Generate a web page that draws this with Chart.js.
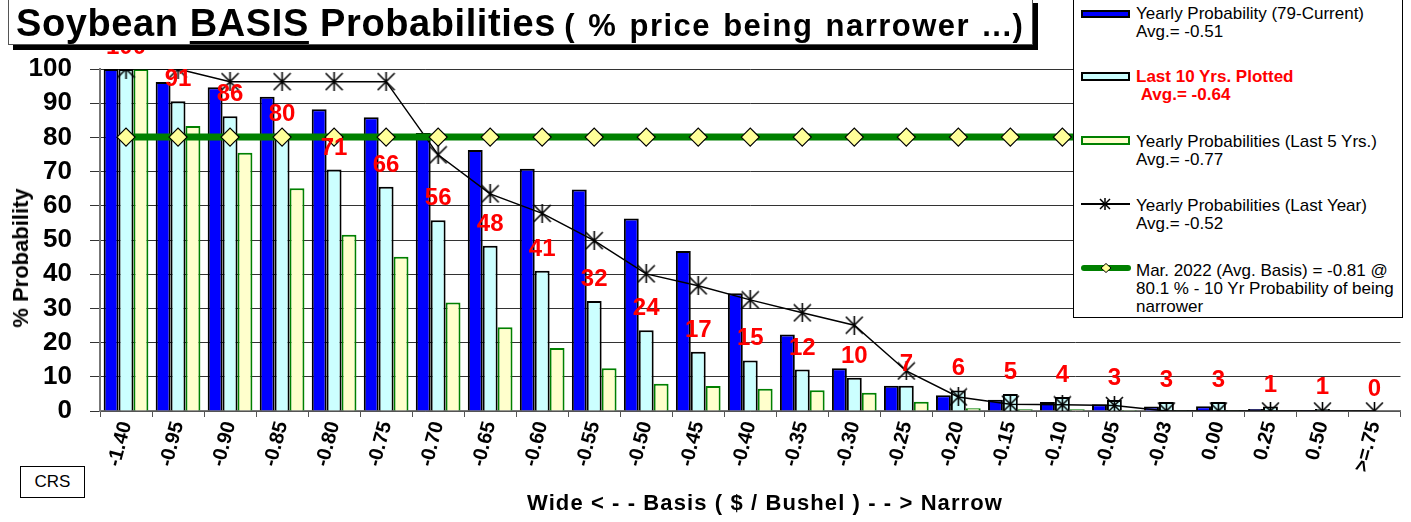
<!DOCTYPE html>
<html>
<head>
<meta charset="utf-8">
<title>Soybean BASIS Probabilities</title>
<script src="https://cdn.jsdelivr.net/npm/chart.js@4.4.1/dist/chart.umd.min.js"></script>
<style>
  html, body { margin: 0; padding: 0; background: #fff; }
  body { width: 1411px; height: 522px; position: relative; overflow: hidden;
         font-family: "Liberation Sans", Arial, sans-serif; color: #000; }
  #wrap { position: absolute; left: 0; top: 0; width: 1411px; height: 522px; }

  .title-box { position: absolute; left: 8px; top: -2px; width: 1025px; height: 47px;
               background: #fff; border: 1px solid #555; box-shadow: 5px 5px 0 #000;
               z-index: 2; white-space: nowrap; line-height: 49px; padding-left: 7px; box-sizing: border-box; }
  .title-main { font-weight: bold; font-size: 38px; letter-spacing: 0.6px; }
  .title-main u { text-decoration-thickness: 3px; text-underline-offset: 5px; }
  .title-sub { font-weight: bold; font-size: 31px; letter-spacing: 1.5px; word-spacing: 2px; margin-left: 4px; }

  .legend { position: absolute; left: 1073px; top: -1px; width: 330px; height: 319px;
            background: #fff; border: 1px solid #000; box-sizing: border-box; z-index: 2; }
  .lg-text { position: absolute; left: 62px; font-size: 17px; line-height: 18px; white-space: nowrap; }
  .lg-red { color: #ff0000; font-weight: bold; }
  .sw { position: absolute; left: 7px; width: 49px; box-sizing: border-box; }
  .lg-svg { position: absolute; left: 7px; }

  .y-title { position: absolute; left: 21px; top: 258px; transform: translate(-50%, -50%) rotate(-90deg);
             font-weight: bold; font-size: 22px; white-space: nowrap; }
  .x-title { position: absolute; left: 765px; top: 503px; transform: translate(-50%, -50%);
             font-weight: bold; font-size: 22px; letter-spacing: 1.1px; white-space: nowrap; }
  .crs { position: absolute; left: 20px; top: 466px; width: 65px; height: 32px; box-sizing: border-box;
         border: 1px solid #000; font-size: 17px; line-height: 30px; text-align: center; background: #fff; }
</style>
</head>
<body>
<div id="wrap"><canvas id="basisChart"></canvas></div>

<div class="title-box">
  <span class="title-main">Soybean <u>BASIS</u> Probabilities</span>
  <span class="title-sub">( % price being narrower ...)</span>
</div>

<div class="legend">
  <div class="sw" style="top:10px;height:8px;background:#0000ff;border:2px solid #000;"></div>
  <div class="lg-text" style="top:5px;">Yearly Probability (79-Current)<br>Avg.= -0.51</div>

  <div class="sw" style="top:72px;height:9px;background:#ccffff;border:2px solid #000;"></div>
  <div class="lg-text lg-red" style="top:68px;">Last 10 Yrs. Plotted<br>&nbsp;Avg.= -0.64</div>

  <div class="sw" style="top:136px;height:9px;background:#ffffcc;border:2px solid #008000;"></div>
  <div class="lg-text" style="top:133px;">Yearly Probabilities (Last 5 Yrs.)<br>Avg.= -0.77</div>

  <svg class="lg-svg" style="top:197px;" width="49" height="14" viewBox="0 0 49 14">
    <line x1="0" y1="7" x2="49" y2="7" stroke="#000" stroke-width="2"/>
    <line x1="19" y1="2" x2="29" y2="12" stroke="#000" stroke-width="1.5"/>
    <line x1="29" y1="2" x2="19" y2="12" stroke="#000" stroke-width="1.5"/>
    <line x1="24" y1="1" x2="24" y2="13" stroke="#000" stroke-width="1.5"/>
  </svg>
  <div class="lg-text" style="top:197px;">Yearly Probabilities (Last Year)<br>Avg.= -0.52</div>

  <svg class="lg-svg" style="top:261px;" width="50" height="14" viewBox="0 0 50 14">
    <line x1="3" y1="7" x2="47" y2="7" stroke="#008000" stroke-width="6" stroke-linecap="round"/>
    <polygon points="25,2.5 30,7 25,11.5 20,7" fill="#ffff99" stroke="#000" stroke-width="1"/>
  </svg>
  <div class="lg-text" style="top:262px;">Mar. 2022 (Avg. Basis) = -0.81 @<br>80.1 % - 10 Yr Probability of being<br>narrower</div>
</div>

<div class="y-title">% Probability</div>
<div class="x-title">Wide &lt; - - Basis ( $ / Bushel ) - - &gt; Narrow</div>
<div class="crs">CRS</div>

<script>
// basis levels ($ / bushel), wide -> narrow
const categories = ["-1.40", "-0.95", "-0.90", "-0.85", "-0.80", "-0.75", "-0.70", "-0.65", "-0.60",
  "-0.55", "-0.50", "-0.45", "-0.40", "-0.35", "-0.30", "-0.25", "-0.20", "-0.15", "-0.10",
  "-0.05", "-0.03", "0.00", "0.25", "0.50", ">=.75"];

// % probability of the price being narrower
const yearly79 = [100, 96.2, 94.7, 91.9, 88.2, 85.9, 81.3, 76.3, 70.8, 64.8, 56.3, 46.8, 34.4,
  22.4, 12.5, 7.4, 4.6, 3.3, 2.6, 2.0, 1.3, 1.4, 0.6, 0.3, 0.2];
const last10 = [100, 90.6, 86.2, 80.3, 70.6, 65.6, 55.8, 48.3, 41.0, 32.2, 23.6, 17.3, 14.8,
  12.1, 9.7, 7.4, 6.0, 5.0, 4.1, 3.2, 2.6, 2.6, 1.3, 0.6, 0.0];
const last5 = [100, 83.3, 75.5, 65.1, 51.5, 45.1, 31.7, 24.5, 18.4, 12.5, 8.0, 7.3, 6.5,
  6.1, 5.3, 2.7, 0.8, 0.5, 0.5, 0.3, 0.3, 0.3, 0, 0, 0];
const lastYear = [100, 100, 96.3, 96.3, 96.3, 96.3, 74.9, 63.5, 57.8, 49.8, 40.1, 36.6, 32.5,
  28.7, 25.1, 11.7, 4.1, 2.0, 1.8, 1.6, 0, 0, 0, 0, 0];
const mar2022 = [80.1, 80.1, 80.1, 80.1, 80.1, 80.1, 80.1, 80.1, 80.1, 80.1, 80.1, 80.1, 80.1,
  80.1, 80.1, 80.1, 80.1, 80.1, 80.1, 80.1, 80.1, 80.1, 80.1, 80.1, 80.1];

const yTicks = [0, 10, 20, 30, 40, 50, 60, 70, 80, 90, 100];

const FONT = '"Liberation Sans", Arial, sans-serif';

// asterisk marker (X with a vertical stroke) like the Excel one
function asteriskMarker(size) {
  const c = document.createElement("canvas");
  c.width = size; c.height = size;
  const g = c.getContext("2d");
  g.strokeStyle = "#000";
  g.lineWidth = 1.6;
  g.beginPath();
  g.moveTo(1, 1); g.lineTo(size - 1, size - 1);
  g.moveTo(size - 1, 1); g.lineTo(1, size - 1);
  g.moveTo(size / 2, 0); g.lineTo(size / 2, size);
  g.stroke();
  return c;
}

// red value labels above the "last 10 yrs" bars
const redLabels = {
  id: "redLabels",
  afterDatasetsDraw(chart) {
    const meta = chart.getDatasetMeta(3);
    const ctx = chart.ctx;
    ctx.save();
    ctx.font = "bold 24px " + FONT;
    ctx.fillStyle = "#ff0000";
    ctx.textAlign = "center";
    ctx.textBaseline = "alphabetic";
    meta.data.forEach((bar, i) => {
      ctx.fillText(String(Math.round(last10[i])), bar.x, bar.y - 15);
    });
    ctx.restore();
  }
};

const barOpts = { categoryPercentage: 0.86, barPercentage: 1.0, borderWidth: 2 };

new Chart(document.getElementById("basisChart"), {
  type: "bar",
  data: {
    labels: categories,
    datasets: [
      {
        type: "line", label: "Mar. 2022", data: mar2022, order: 0,
        borderColor: "#008000", borderWidth: 7,
        pointStyle: "rectRot", pointRadius: 9,
        pointBackgroundColor: "#ffff99", pointBorderColor: "#000", pointBorderWidth: 1.2
      },
      {
        type: "line", label: "Last Year", data: lastYear, order: 1,
        borderColor: "#000", borderWidth: 1.5,
        pointStyle: asteriskMarker(19), pointRadius: 9
      },
      { label: "79-Current", data: yearly79, order: 2, backgroundColor: "#0000ff", borderColor: "#000", ...barOpts },
      { label: "Last 10", data: last10, order: 3, backgroundColor: "#ccffff", borderColor: "#000", ...barOpts },
      { label: "Last 5", data: last5, order: 4, backgroundColor: "#ffffcc", borderColor: "#008000", ...barOpts }
    ]
  },
  options: {
    responsive: true,
    maintainAspectRatio: false,
    animation: false,
    layout: { padding: { top: 69, right: 1, left: 0, bottom: 0 } },
    plugins: { legend: { display: false }, tooltip: { enabled: false } },
    scales: {
      x: {
        grid: { offset: true, drawOnChartArea: false, tickLength: 6, color: "#555" },
        border: { color: "#777", width: 1.5 },
        ticks: {
          autoSkip: false, maxRotation: 75, minRotation: 75, padding: 2, color: "#000",
          font: { family: FONT, size: 20, weight: "bold" }
        },
        afterFit: (s) => { s.height = 111; }
      },
      y: {
        min: 0, max: 100,
        afterBuildTicks: (s) => { s.ticks = yTicks.map(v => ({ value: v })); },
        grid: { color: "#333", tickLength: 10 },
        border: { color: "#777", width: 2 },
        ticks: { padding: 18, color: "#000", font: { family: FONT, size: 26, weight: "bold" } },
        afterFit: (s) => { s.width = 100; }
      }
    }
  },
  plugins: [redLabels]
});
</script>
</body>
</html>
